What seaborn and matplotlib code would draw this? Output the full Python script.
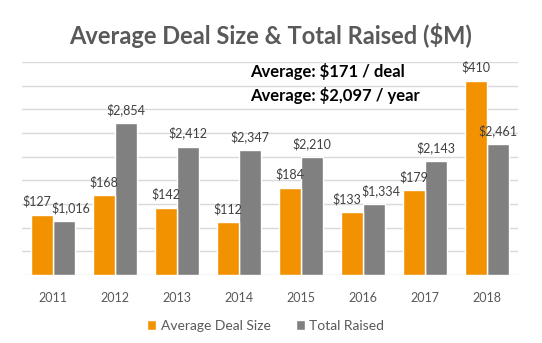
import matplotlib
matplotlib.use("Agg")
import matplotlib.pyplot as plt
import seaborn as sns
import pandas as pd
import numpy as np
from matplotlib.patches import Patch

years = ["2011", "2012", "2013", "2014", "2015", "2016", "2017", "2018"]
avg_deal = [127, 168, 142, 112, 184, 133, 179, 410]
total_raised = [1016, 2854, 2412, 2347, 2210, 1334, 2143, 2461]
series = ["Average Deal Size", "Total Raised"]
title = "Average Deal Size & Total Raised ($M)"
note1 = "Average: $171 / deal"
note2 = "Average: $2,097 / year"

sns.set_theme(style="white")
plt.rcParams["font.family"] = ["Lato", "DejaVu Sans"]

c_orange = "#F39200"
c_gray = "#808080"
palette = {series[0]: c_orange, series[1]: c_gray}

df1 = pd.DataFrame({"year": years, "value": avg_deal, "series": series[0]})
df2 = pd.DataFrame({"year": years, "value": total_raised, "series": series[1]})

fig = plt.figure(figsize=(5.42, 3.43), dpi=100)
ax1 = fig.add_axes([22/542, 1-275/343, 496/542, 213/343])
ax2 = ax1.twinx()
ax1.set_zorder(3)
ax1.patch.set_visible(False)

sns.barplot(data=df1, x="year", y="value", hue="series", hue_order=series,
            palette=palette, order=years, ax=ax1, width=0.71, dodge=True,
            legend=False, saturation=1, errorbar=None)
sns.barplot(data=df2, x="year", y="value", hue="series", hue_order=series,
            palette=palette, order=years, ax=ax2, width=0.71, dodge=True,
            legend=False, saturation=1, errorbar=None)

ax1.set_ylim(0, 450)
ax2.set_ylim(0, 4000)
ax1.set_yticks([])
ax2.set_yticks(np.linspace(0, 4000, 10))
ax2.yaxis.grid(True, color="#D9D9D9", linewidth=1)
ax2.set_axisbelow(True)
ax2.set_yticklabels([])
ax2.tick_params(axis="y", length=0)
ax1.tick_params(axis="x", length=0, labelsize=9, labelcolor="#595959", pad=12)
ax1.set_xlabel("")
ax1.set_ylabel("")
ax2.set_ylabel("")
for ax in (ax1, ax2):
    for s in ax.spines.values():
        s.set_visible(False)
ax1.set_xlim(-0.5, 7.5)
ax2.set_xlim(-0.5, 7.5)


def bars_of(ax):
    for cont in ax.containers:
        if len(cont) and all(b is not None for b in cont):
            return list(cont)
    return []


def label_bars(src_ax, values, shift):
    # labels are drawn in the top axes (ax1) so they sit above every bar
    for i, (bar, v) in enumerate(zip(bars_of(src_ax), values)):
        dx = shift if i in (0, 5) else 0
        ax1.annotate(f"${v:,}",
                     xy=(bar.get_x() + bar.get_width() / 2, bar.get_height()),
                     xycoords=src_ax.transData, xytext=(dx, 5),
                     textcoords="offset points", ha="center", va="bottom",
                     fontsize=9, color="#404040", annotation_clip=False)


label_bars(ax1, avg_deal, -4)
label_bars(ax2, total_raised, 5)

fig.text(0.5, 1-35/343, title, ha="center", va="center", fontsize=17,
         fontweight="bold", color="#595959")
fig.text(250/542, 1-72/343, note1, ha="left", va="center", fontsize=12,
         fontweight="bold", color="black")
fig.text(250/542, 1-95/343, note2, ha="left", va="center", fontsize=12,
         fontweight="bold", color="black")

handles = [Patch(facecolor=c_orange, label=series[0]),
           Patch(facecolor=c_gray, label=series[1])]
fig.legend(handles=handles, loc="center", bbox_to_anchor=(0.49, 1-326/343),
           ncol=2, frameon=False, fontsize=10, handlelength=0.7,
           handleheight=0.7, handletextpad=0.3, columnspacing=1.8,
           labelcolor="#595959")

fig.savefig("out.png", dpi=100)
